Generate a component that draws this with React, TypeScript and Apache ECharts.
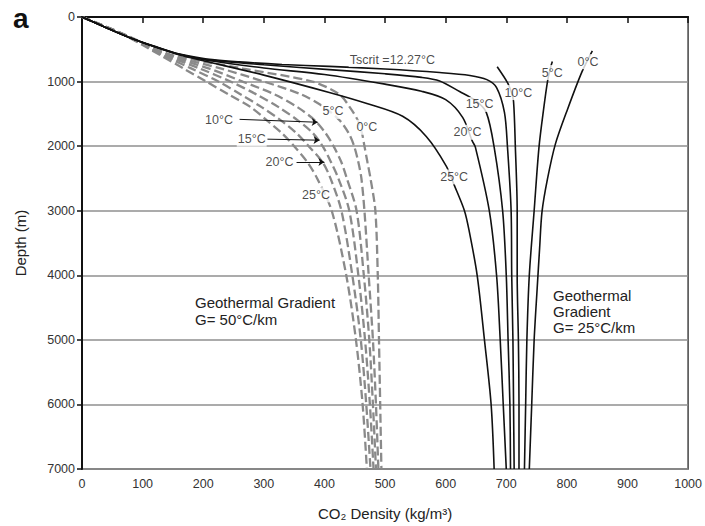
import React, { useEffect, useRef } from "react";
import * as echarts from "echarts";

// ---- Data: CO2 density (kg/m3) vs depth (m) ----
// Geothermal gradient 50 °C/km (dashed) — densities at these depths
const dashedDepths = [0, 150, 300, 450, 600, 800, 1000, 1200, 1400, 1600, 1800, 2000, 2250, 2500, 3000, 4000, 5000, 6000, 7000];
const dashed0C = [0, 40, 77, 112, 153, 266, 380, 425, 442, 455, 462, 466, 471, 476, 484, 488, 490, 492, 494];
const dashed5C = [0, 40, 76, 110, 148, 230, 300, 362, 400, 425, 440, 449, 456, 461, 466, 473, 480, 485, 489];
const dashed10C = [0, 39, 76, 108, 143, 210, 265, 318, 356, 384, 402, 415, 428, 437, 453, 465, 474, 480, 485];
const dashed15C = [0, 39, 75, 106, 139, 195, 245, 288, 325, 356, 381, 397, 411, 423, 441, 456, 467, 475, 481];
const dashed20C = [0, 39, 75, 105, 135, 181, 225, 262, 297, 328, 354, 374, 397, 410, 428, 446, 460, 469, 476];
const dashed25C = [0, 38, 74, 103, 131, 168, 205, 242, 279, 305, 330, 350, 372, 388, 412, 436, 452, 463, 470];

// Geothermal gradient 25 °C/km (solid) — [density, depth] pairs
const solidTscrit = [[0, 0], [40, 165], [79, 320], [120, 455], [161, 575], [206, 650], [260, 695], [330, 735], [408, 765], [500, 805], [590, 860], [640, 905], [668, 970], [684, 1092], [697, 1477], [702, 2015], [708, 3000], [709, 4000], [711, 5000], [712, 6000], [713, 7000]];
const solid15C = [[0, 0], [40, 165], [79, 320], [120, 457], [161, 578], [206, 660], [300, 740], [408, 815], [500, 880], [560, 935], [590, 990], [623, 1154], [650, 1300], [667, 1477], [680, 2015], [694, 3000], [700, 4000], [703, 5000], [706, 6000], [707, 7000]];
const solid20C = [[0, 0], [40, 165], [79, 320], [120, 460], [161, 582], [206, 670], [300, 790], [400, 890], [500, 1040], [560, 1150], [600, 1280], [628, 1554], [644, 1923], [649, 2015], [672, 3000], [684, 4000], [690, 5000], [695, 6000], [700, 7000]];
const solid25C = [[0, 0], [40, 165], [79, 320], [120, 462], [161, 590], [206, 690], [300, 900], [408, 1169], [470, 1340], [529, 1538], [568, 1850], [601, 2308], [614, 2600], [631, 3000], [639, 3323], [652, 4000], [664, 5000], [675, 6000], [680, 7000]];
// Below Tscrit the curves jump to the liquid branch
const solid10CLiquid = [[685, 770], [702, 1015], [708, 1150], [712, 1308], [715, 2015], [718, 3000], [718, 4000], [720, 5000], [721, 6000], [721, 7000]];
const solid5CLiquid = [[776, 690], [772, 820], [768, 1000], [762, 1400], [754, 2015], [746, 3000], [738, 4000], [734, 5000], [732, 6000], [730, 7000]];
const solid0CLiquid = [[842, 523], [825, 846], [801, 1431], [781, 1969], [768, 2508], [759, 3015], [755, 3585], [751, 4200], [746, 5000], [742, 6000], [738, 7000]];

// Curve labels: [text, density, depth]
const curveLabels: [string, number, number][] = [
  ["Tscrit =12.27°C", 512, 660],
  ["0°C", 835, 692],
  ["5°C", 776, 860],
  ["10°C", 720, 1170],
  ["15°C", 656, 1354],
  ["20°C", 636, 1785],
  ["25°C", 614, 2477],
  ["10°C", 226, 1600],
  ["15°C", 280, 1892],
  ["20°C", 326, 2246],
  ["25°C", 386, 2754],
  ["5°C", 414, 1462],
  ["0°C", 470, 1708],
];
// Arrows from dashed-curve labels to their curves: [fromDensity, fromDepth, toDensity, toDepth]
const arrows = [
  [260, 1585, 389, 1630],
  [306, 1892, 392, 1908],
  [354, 2246, 400, 2246],
];

const xTicks = { min: 0, max: 1000, interval: 100 };
const yTicks = { min: 0, max: 7000, interval: 1000 };

const FONT = "'Liberation Sans', Arial, Helvetica, sans-serif";

export default function App() {
  const ref = useRef<HTMLDivElement>(null);
  useEffect(() => {
    if (!ref.current) return;
    const chart = echarts.init(ref.current, undefined, { renderer: "svg" });
    const dashedSets = [
      ["0°C (50°C/km)", dashed0C],
      ["5°C (50°C/km)", dashed5C],
      ["10°C (50°C/km)", dashed10C],
      ["15°C (50°C/km)", dashed15C],
      ["20°C (50°C/km)", dashed20C],
      ["25°C (50°C/km)", dashed25C],
    ] as [string, number[]][];
    const solidSets = [
      ["Tscrit (25°C/km)", solidTscrit],
      ["15°C (25°C/km)", solid15C],
      ["20°C (25°C/km)", solid20C],
      ["25°C (25°C/km)", solid25C],
      ["10°C (25°C/km)", solid10CLiquid],
      ["5°C (25°C/km)", solid5CLiquid],
      ["0°C (25°C/km)", solid0CLiquid],
    ] as [string, number[][]][];

    const series: any[] = [];
    dashedSets.forEach(([name, vals]) => {
      series.push({
        name,
        type: "line",
        data: dashedDepths.map((d, i) => [vals[i], d]),
        smooth: 0.3,
        showSymbol: false,
        symbol: "none",
        z: 2,
        lineStyle: { color: "#8a8a8a", width: 2.3, type: [9, 4] },
      });
    });
    solidSets.forEach(([name, pts]) => {
      series.push({
        name,
        type: "line",
        data: pts,
        smooth: 0.3,
        showSymbol: false,
        symbol: "none",
        z: 3,
        lineStyle: { color: "#111", width: 1.6 },
      });
    });
    series.push({
      type: "lines",
      coordinateSystem: "cartesian2d",
      z: 4,
      symbol: ["none", "arrow"],
      symbolSize: 6,
      lineStyle: { color: "#111", width: 1, opacity: 1 },
      data: arrows.map((a) => ({ coords: [[a[0], a[1]], [a[2], a[3]]] })),
    });
    series.push({
      type: "scatter",
      z: 6,
      symbolSize: 0,
      silent: true,
      data: curveLabels.map(([t, v, d]) => ({ name: t, value: [v, d] })),
      label: {
        show: true,
        position: "inside",
        formatter: (p: any) => p.name,
        color: "#1a1a1a",
        textBorderWidth: 0,
        fontSize: 12.5,
        fontFamily: FONT,
        backgroundColor: "#fff",
        padding: [1, 1],
      },
    });

    chart.setOption({
      animation: false,
      backgroundColor: "#fff",
      grid: {
        left: 82,
        right: 16,
        top: 17,
        bottom: 54,
        show: true,
        borderColor: "#444",
        borderWidth: 1.5,
        backgroundColor: "transparent",
      },
      xAxis: {
        type: "value",
        ...xTicks,
        position: "bottom",
        name: "CO₂ Density (kg/m³)",
        nameLocation: "middle",
        nameGap: 37,
        nameTextStyle: { fontSize: 15, color: "#222", fontFamily: FONT },
        axisLine: { show: true, lineStyle: { color: "#111", width: 2 } },
        axisTick: { show: true, length: 6, lineStyle: { color: "#111", width: 1.5 } },
        axisLabel: { fontSize: 12.5, color: "#333", margin: 8, fontFamily: FONT, formatter: (v: number) => String(v) },
        splitLine: { show: false },
      },
      yAxis: {
        type: "value",
        ...yTicks,
        inverse: true,
        name: "Depth (m)",
        nameLocation: "middle",
        nameGap: 54,
        nameRotate: 90,
        nameTextStyle: { fontSize: 15, color: "#222", fontFamily: FONT },
        axisLine: { show: true, lineStyle: { color: "#111", width: 2 } },
        axisTick: { show: true, length: 5, lineStyle: { color: "#111", width: 1.5 } },
        axisLabel: { fontSize: 12.5, color: "#333", margin: 7, fontFamily: FONT, formatter: (v: number) => String(v) },
        splitLine: { show: true, lineStyle: { color: "#8f8f8f", width: 1.5 } },
      },
      graphic: [
        {
          type: "text",
          left: 13,
          top: 4,
          style: { text: "a", font: `bold 28px ${FONT}`, fill: "#111" },
        },
        {
          type: "text",
          x: 195,
          y: 294,
          style: {
            text: "Geothermal Gradient\nG= 50°C/km",
            font: `15px ${FONT}`,
            fill: "#222",
            lineHeight: 17,
          },
        },
        {
          type: "text",
          x: 553,
          y: 287,
          style: {
            text: "Geothermal\nGradient\nG= 25°C/km",
            font: `15px ${FONT}`,
            fill: "#222",
            lineHeight: 16,
          },
        },
      ],
      series,
    });
    return () => chart.dispose();
  }, []);
  return (
    <div
      ref={ref}
      style={{ position: "fixed", left: 0, top: 0, width: 705, height: 526, background: "#fff" }}
    />
  );
}
